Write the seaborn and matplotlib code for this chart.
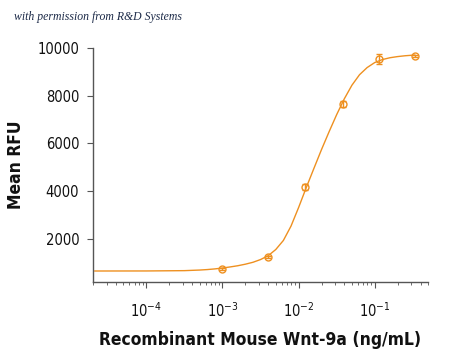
import numpy as np
import pandas as pd
import matplotlib
matplotlib.use('Agg')
import matplotlib.pyplot as plt
import matplotlib.ticker as mticker
import seaborn as sns

# measured points (ng/mL, mean RFU, error)
conc = [0.001, 0.0040, 0.012, 0.038, 0.113, 0.336]
rfu = [744, 1246, 4178, 7654, 9538, 9664]
err = [30, 60, 125, 140, 210, 40]

# fitted curve (log10 conc, RFU)
curve_logx = [-4.68, -4.0, -3.5, -3.3, -3.2, -3.1, -3.0, -2.9, -2.8, -2.7,
              -2.6, -2.5, -2.4, -2.3, -2.2, -2.1, -2.0, -1.9, -1.8, -1.7,
              -1.6, -1.5, -1.4, -1.3, -1.2, -1.1, -1.0, -0.9, -0.8, -0.7,
              -0.6, -0.47]
curve_rfu = [660, 662, 675, 700, 720, 748, 785, 830, 880, 945,
             1025, 1140, 1300, 1560, 1940, 2540, 3320, 4150, 4950, 5740,
             6490, 7210, 7870, 8440, 8880, 9180, 9390, 9515, 9592, 9640,
             9675, 9706]

ORANGE = '#ee9020'


def main():
    sns.set_theme(style='ticks')
    plt.rcParams['font.family'] = ['DejaVu Sans']
    plt.rcParams['font.stretch'] = 'condensed'
    plt.rcParams['mathtext.fontset'] = 'custom'
    plt.rcParams['mathtext.rm'] = 'DejaVu Sans:stretch=condensed'
    plt.rcParams['mathtext.it'] = 'DejaVu Sans:italic:stretch=condensed'
    plt.rcParams['mathtext.bf'] = 'DejaVu Sans:bold:stretch=condensed'

    fig = plt.figure(figsize=(4.5, 3.6), dpi=100)
    ax = fig.add_axes([0.207, 0.2167, 0.744, 0.65])

    curve = pd.DataFrame({'x': 10 ** np.array(curve_logx), 'y': curve_rfu})
    sns.lineplot(data=curve, x='x', y='y', ax=ax, color=ORANGE, lw=1.0,
                 sort=False)
    ax.errorbar(conc, rfu, yerr=err, fmt='o', ms=5, mfc='none', mec=ORANGE,
                mew=1.0, ecolor=ORANGE, elinewidth=1.0, capsize=2.5,
                capthick=1.0)

    ax.set_xscale('log')
    ax.set_xlim(2e-5, 0.5)
    ax.set_ylim(200, 10000)
    ax.set_yticks([2000, 4000, 6000, 8000, 10000])
    ax.xaxis.set_major_locator(mticker.LogLocator(base=10, numticks=10))
    ax.xaxis.set_minor_locator(mticker.LogLocator(base=10,
                                                  subs=np.arange(2, 10),
                                                  numticks=20))
    ax.xaxis.set_minor_formatter(mticker.NullFormatter())

    sns.despine(ax=ax)
    for s in ['left', 'bottom']:
        ax.spines[s].set_color('#555555')
        ax.spines[s].set_linewidth(1.0)
    ax.tick_params(axis='y', length=4, width=0.8, color='#555555',
                   labelsize=10.5, pad=6, labelcolor='#111111')
    ax.tick_params(axis='x', which='major', length=4, width=0.8,
                   color='#555555', labelsize=10.5, pad=10,
                   labelcolor='#111111')
    ax.tick_params(axis='x', which='minor', length=2.5, width=0.6,
                   color='#555555')

    ax.set_xlabel('Recombinant Mouse Wnt-9a (ng/mL)', fontsize=12.5,
                  fontweight='bold', labelpad=8, color='#111111')
    ax.set_ylabel('Mean RFU', fontsize=12.5, fontweight='bold', labelpad=9,
                  color='#111111')

    fig.text(0.03, 0.953, 'with permission from R&D Systems', fontsize=8.5,
             style='italic', color='#1c2a48', va='center',
             family=['Liberation Serif', 'DejaVu Serif'])

    fig.savefig('out.png', dpi=100)


if __name__ == '__main__':
    main()
